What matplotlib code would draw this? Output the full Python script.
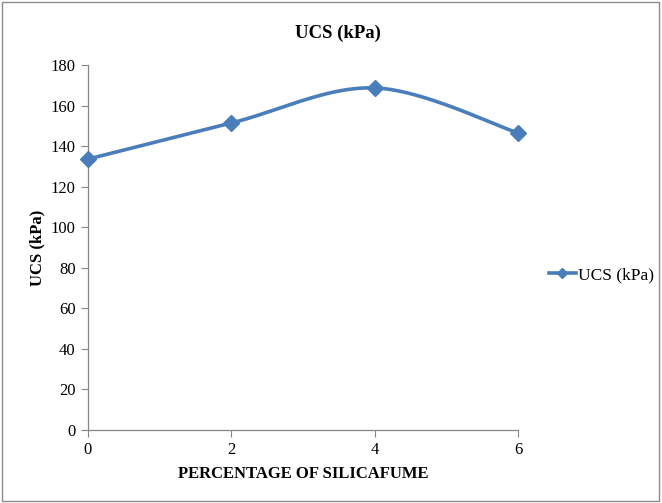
import numpy as np
import matplotlib
matplotlib.use("Agg")
import matplotlib.pyplot as plt
from matplotlib.lines import Line2D
from matplotlib.patches import Rectangle

plt.rcParams['font.family'] = ['Liberation Serif', 'DejaVu Serif']

silica_pct = [0, 2, 4, 6]
ucs_kpa = [133.6, 151.4, 168.7, 146.5]
x_ticks = [0, 2, 4, 6]
y_ticks = [0, 20, 40, 60, 80, 100, 120, 140, 160, 180]
series_name = "UCS (kPa)"

line_color = "#4A7EBB"
axis_color = "#868686"


def smooth_curve(xs, ys, n=60, tension=1.0 / 6.0):
    """Cubic Bezier smoothing through the points (spreadsheet-style)."""
    xs = np.asarray(xs, float)
    ys = np.asarray(ys, float)
    pts = np.column_stack([xs, ys])
    out = [pts[0]]
    for i in range(len(pts) - 1):
        p0 = pts[i - 1] if i > 0 else pts[i]
        p1 = pts[i]
        p2 = pts[i + 1]
        p3 = pts[i + 2] if i + 2 < len(pts) else pts[i + 1]
        c1 = p1 + (p2 - p0) * tension
        c2 = p2 - (p3 - p1) * tension
        t = np.linspace(0, 1, n)[1:, None]
        seg = ((1 - t) ** 3) * p1 + 3 * ((1 - t) ** 2) * t * c1 \
            + 3 * (1 - t) * t ** 2 * c2 + t ** 3 * p2
        out.extend(seg)
    out = np.array(out)
    return out[:, 0], out[:, 1]


W, H = 662, 503
fig = plt.figure(figsize=(W / 100, H / 100), dpi=100)
fig.patches.append(Rectangle((2 / W, 2 / H), (W - 5) / W, (H - 4) / H,
                             transform=fig.transFigure, fill=False,
                             edgecolor="#8c8c8c", linewidth=1.0))

left, right, bottom, top = 88 / W, 518 / W, (H - 430) / H, (H - 65) / H
ax = fig.add_axes([left, bottom, right - left, top - bottom])

sx, sy = smooth_curve(silica_pct, ucs_kpa)
ax.plot(sx, sy, color=line_color, linewidth=2.6, solid_capstyle="round",
        clip_on=False, zorder=3)
ax.plot(silica_pct, ucs_kpa, linestyle="none", marker="D", markersize=8,
        color=line_color, clip_on=False, zorder=4)

ax.set_xlim(0, 6)
ax.set_ylim(0, 180)
ax.set_xticks(x_ticks)
ax.set_yticks(y_ticks)
ax.tick_params(axis="both", direction="out", length=5, width=0.8,
               color=axis_color, labelsize=12, labelcolor="black")
ax.tick_params(axis="x", pad=4)
ax.tick_params(axis="y", pad=4)
for side in ("top", "right"):
    ax.spines[side].set_visible(False)
for side in ("left", "bottom"):
    ax.spines[side].set_color(axis_color)
    ax.spines[side].set_linewidth(0.9)

fig.text(338 / W, 1 - 33 / H, "UCS (kPa)", ha="center", va="center",
         fontsize=13.5, fontweight="bold")
fig.text(303 / W, 1 - 474 / H, "PERCENTAGE OF SILICAFUME", ha="center",
         va="center", fontsize=12, fontweight="bold")
fig.text(37 / W, 1 - 248 / H, "UCS (kPa)", ha="center", va="center",
         rotation=90, fontsize=12, fontweight="bold")

handle = Line2D([], [], color=line_color, linewidth=2.6, marker="D",
                markersize=5.5)
fig.legend([handle], [series_name], loc="center left",
           bbox_to_anchor=(549 / W, 1 - 275 / H), frameon=False,
           fontsize=12.5, handlelength=1.55, handletextpad=0.1,
           borderaxespad=0, borderpad=0)

fig.savefig("out.png", dpi=100)
